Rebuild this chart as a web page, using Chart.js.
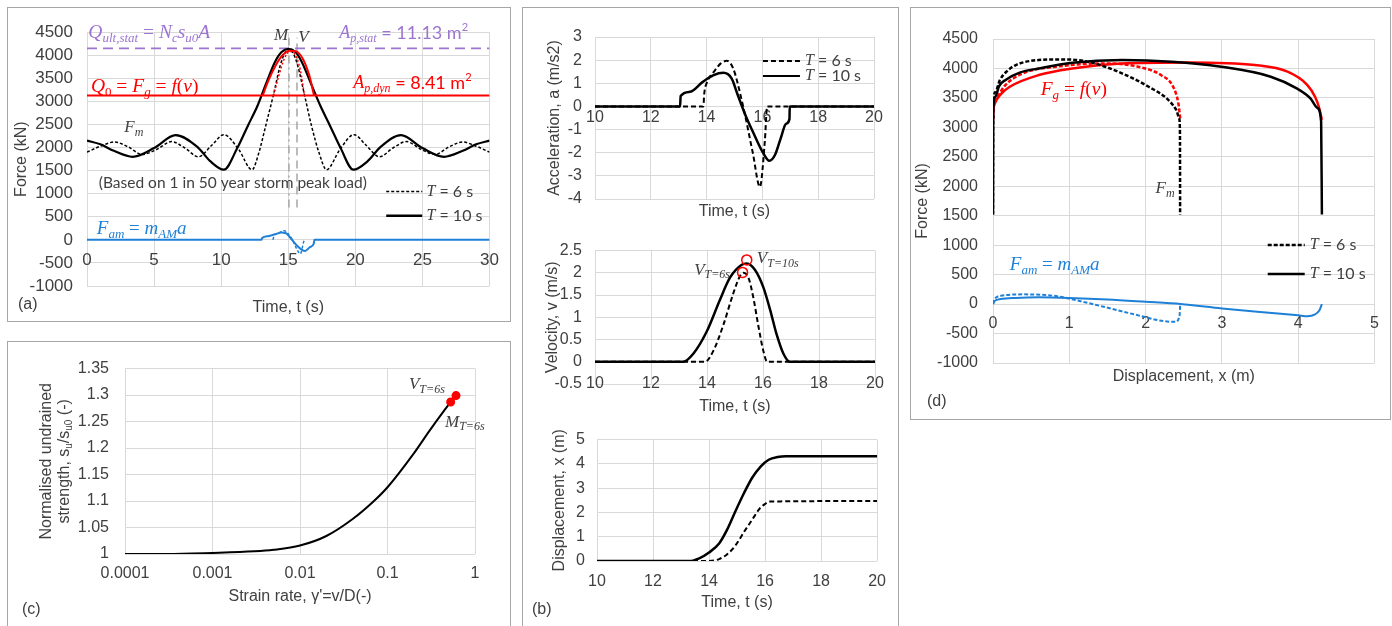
<!DOCTYPE html>
<html>
<head>
<meta charset="utf-8">
<script src="https://cdn.jsdelivr.net/npm/chart.js@4/dist/chart.umd.min.js"></script>
<style>
  body { margin: 0; background: #fff; width: 1392px; height: 626px; position: relative; overflow: hidden; }
  .box { position: absolute; border: 1px solid #a6a6a6; box-sizing: border-box; }
  canvas { position: absolute; }
</style>
</head>
<body>
<div class="box" style="left:7px;top:7px;width:504px;height:315px"></div>
<div class="box" style="left:7px;top:341px;width:504px;height:300px"></div>
<div class="box" style="left:522px;top:7px;width:377px;height:630px"></div>
<div class="box" style="left:910px;top:7px;width:481px;height:413px"></div>

<canvas id="chartA" style="left:8px;top:8px" width="501" height="312"></canvas>
<canvas id="chartC" style="left:8px;top:343px" width="501" height="277"></canvas>
<canvas id="chartAcc" style="left:524px;top:8px" width="373" height="220"></canvas>
<canvas id="chartVel" style="left:524px;top:228px" width="373" height="190"></canvas>
<canvas id="chartDisp" style="left:524px;top:418px" width="373" height="206"></canvas>
<canvas id="chartD" style="left:912px;top:8px" width="477" height="410"></canvas>

<script>
// ---- (a) force vs time ----
var tA10  = [0, 1, 2, 3.4, 5, 6.6, 8.2, 9.2, 10.2, 11.2, 12.0, 12.7, 13.3, 14.0, 14.5, 15.0, 15.5, 16.0, 16.7, 17.4, 18.1, 18.9, 19.85, 20.9, 21.9, 23.4, 25.0, 26.6, 28.0, 29.0, 30];
var fmA10 = [2150, 2070, 1930, 1800, 1990, 2270, 2020, 1700, 1520, 1990, 2480, 2900, 3350, 3850, 4070, 4140, 4080, 3860, 3380, 2900, 2480, 1990, 1520, 1700, 2020, 2270, 1990, 1800, 1930, 2070, 2150];
var tA6   = [0, 1, 2.05, 3.1, 4.1, 5.2, 6.3, 7.3, 8.3, 9.3, 10.2, 11.3, 12.3, 12.8, 13.3, 13.9, 14.4, 14.8, 15.05, 15.3, 15.7, 16.2, 16.75, 17.3, 17.85, 18.85, 19.9, 20.8, 21.8, 22.8, 23.8, 24.9, 25.95, 26.95, 28.0, 29.0, 30];
var fmA6  = [1900, 2030, 2120, 2010, 1850, 1960, 2130, 1990, 1800, 2050, 2280, 1960, 1520, 1880, 2450, 3150, 3780, 4080, 4130, 4080, 3780, 3150, 2450, 1880, 1520, 1960, 2280, 2050, 1800, 1990, 2130, 1960, 1850, 2010, 2120, 2030, 1900];
var tFg10 = [13.1, 13.5, 14.1, 14.6, 15.1, 15.55, 16.05, 16.55, 16.92];
var fgA10 = [3130, 3440, 3800, 4010, 4100, 4090, 3940, 3580, 3130];
var tFg6  = [13.9, 14.3, 14.7, 15.1, 15.5, 15.9, 16.2];
var fgA6  = [3130, 3560, 3920, 4080, 4020, 3680, 3130];
var tAm10 = [0, 13.0, 13.05, 13.5, 14.0, 14.5, 14.8, 15.2, 15.6, 16.0, 16.25, 16.6, 16.9, 16.95, 30];
var famA10 = [0, 0, 40, 80, 120, 160, 150, 30, -110, -210, -240, -160, -80, 0, 0];
var tAm6  = [13.85, 13.95, 14.3, 14.7, 15.0, 15.3, 15.6, 15.9, 16.15, 16.2];
var famA6 = [0, 90, 150, 200, 130, 0, -180, -300, -40, 0];
var timeSpanA = [0, 30];
var qUltStat = 4150;   // static capacity
var qZero = 3130;      // Q0
var tMarkers = [15.05, 15.65];   // M and V
var markerSpan = [700, 4380];

// ---- (b) acceleration / velocity / displacement vs time ----
var tAcc10 = [10, 13.05, 13.07, 13.4, 13.85, 14.25, 14.6, 14.9, 15.1, 15.4, 15.7, 16.0, 16.25, 16.45, 16.65, 16.85, 16.97, 16.98, 20];
var acc10  = [0, 0, 0.45, 0.63, 1.05, 1.35, 1.45, 1.2, 0.55, -0.4, -1.2, -1.95, -2.35, -2.1, -1.4, -0.75, -0.55, 0, 0];
var tAcc6  = [10, 13.88, 13.92, 14.0, 14.3, 14.5, 14.72, 14.95, 15.3, 15.66, 15.91, 16.09, 16.17, 20];
var acc6   = [0, 0, 0.6, 1.0, 1.56, 1.85, 1.97, 1.65, 0.05, -2.03, -3.47, -1.45, 0, 0];
var tVel10 = [10, 13.15, 13.51, 13.99, 14.46, 14.82, 15.24, 15.42, 15.71, 16.01, 16.25, 16.49, 16.73, 16.96, 20];
var vel10  = [0, 0, 0.18, 0.68, 1.39, 1.89, 2.18, 2.21, 2.07, 1.68, 1.18, 0.61, 0.18, 0, 0];
var tVel6  = [10, 13.93, 14.23, 14.58, 14.94, 15.18, 15.3, 15.48, 15.65, 15.83, 16.01, 16.15, 20];
var vel6   = [0, 0, 0.25, 0.82, 1.54, 1.93, 2.0, 1.89, 1.46, 0.82, 0.25, 0, 0];
var vPeakT = [15.42, 15.27];
var vPeakV = [2.29, 2.01];
var tDisp10 = [10, 13.3, 13.65, 14.0, 14.36, 14.65, 14.95, 15.25, 15.54, 15.85, 16.13, 16.45, 16.75, 20];
var disp10  = [0, 0, 0.11, 0.35, 0.72, 1.3, 2.07, 2.8, 3.43, 3.9, 4.17, 4.28, 4.31, 4.31];
var tDisp6  = [10, 14.0, 14.36, 14.65, 14.95, 15.25, 15.54, 15.8, 16.0, 16.15, 20];
var disp6   = [0, 0, 0.08, 0.28, 0.65, 1.2, 1.7, 2.15, 2.35, 2.45, 2.47];

// ---- (c) strength vs strain rate ----
var strainRate = [0.0001, 0.0003, 0.001, 0.003, 0.005, 0.01, 0.02, 0.04, 0.07, 0.1, 0.2, 0.3, 0.45, 0.527];
var strengthRatio = [1.000, 1.000, 1.002, 1.005, 1.008, 1.016, 1.034, 1.066, 1.100, 1.126, 1.190, 1.232, 1.272, 1.287];
var markRate = [0.527, 0.607];
var markRatio = [1.287, 1.299];
var strainTicks = [0.0001, 0.001, 0.01, 0.1, 1];

// ---- (d) force vs displacement ----
var xFm10 = [0, 0.003, 0.03, 0.08, 0.17, 0.35, 0.6, 1.04, 1.69, 2.34, 2.99, 3.64, 3.98, 4.16, 4.25, 4.3, 4.31];
var fmD10 = [1520, 3300, 3520, 3700, 3810, 3930, 4000, 4097, 4143, 4115, 4029, 3860, 3662, 3492, 3330, 3100, 1520];
var xFm6  = [0, 0.003, 0.03, 0.09, 0.18, 0.3, 0.6, 0.91, 1.26, 1.69, 2.04, 2.3, 2.4, 2.44, 2.45, 2.452];
var fmD6  = [1520, 3320, 3600, 3803, 3950, 4058, 4143, 4154, 4110, 3917, 3690, 3464, 3300, 3150, 2900, 1520];
var xFg10 = [0, 0.003, 0.03, 0.1, 0.22, 0.6, 1.04, 1.69, 2.56, 3.43, 3.86, 4.12, 4.22, 4.27, 4.31];
var fgD10 = [3130, 3250, 3420, 3560, 3690, 3888, 4000, 4086, 4103, 4058, 3945, 3718, 3520, 3350, 3130];
var xFg6  = [0, 0.003, 0.05, 0.15, 0.39, 0.83, 1.47, 1.9, 2.2, 2.36, 2.43, 2.455];
var fgD6  = [3130, 3280, 3500, 3700, 3917, 4030, 4086, 4030, 3888, 3690, 3400, 3130];
var xAm10 = [0, 0.02, 0.1, 0.3, 0.6, 1.0, 1.5, 2.0, 2.46, 3.0, 3.5, 4.0, 4.12, 4.22, 4.28, 4.31];
var famD10 = [0, 50, 85, 105, 115, 105, 80, 40, 0, -75, -135, -190, -205, -175, -100, 0];
var xAm6  = [0, 0.02, 0.1, 0.4, 0.8, 1.02, 1.45, 1.89, 2.24, 2.39, 2.44, 2.45, 2.452];
var famD6 = [0, 80, 140, 165, 140, 85, -45, -187, -290, -300, -220, -100, 0];

var PURPLE = '#9d75d1', RED = '#ff0000', BLUE = '#1f80d8', INK = '#404040', GRID = '#d9d9d9';

Chart.defaults.font.family = '"Liberation Sans", Arial, sans-serif';
Chart.defaults.color = INK;
Chart.defaults.animation = false;
Chart.defaults.responsive = false;
Chart.defaults.plugins.legend.display = false;
Chart.defaults.plugins.tooltip.enabled = false;

function pts(xs, ys) { return xs.map(function (x, i) { return {x: x, y: ys[i]}; }); }

function line(xs, ys, color, width, dash, straight) {
    return {
        data: pts(xs, ys), showLine: true, borderColor: color, borderWidth: width,
        borderDash: dash || [], pointRadius: 0, fill: false,
        cubicInterpolationMode: straight ? 'default' : 'monotone', tension: 0
    };
}

var tickFmt = function (v) { return String(Math.round(v * 1000) / 1000); };

// x axes sit on a data value; y axes are a fixed-width left box
function axis(min, max, step, at, size, pad, boxWidth) {
    var a = {
        type: 'linear', min: min, max: max, position: at,
        ticks: {stepSize: step, autoSkip: false, maxRotation: 0, font: {size: size}, padding: pad, callback: tickFmt, color: INK},
        grid: {color: GRID, drawTicks: false},
        border: {display: false}
    };
    if (boxWidth) {
        a.afterFit = function (s) { s.width = boxWidth; };
    }
    return a;
}

// mixed math / text runs: [text, kind]
function fontOf(k, S) {
    switch (k) {
        case 'm':  return ['italic ' + S + 'px "Liberation Serif"', 0];
        case 's':  return ['italic ' + Math.round(S * 0.68) + 'px "Liberation Serif"', S * 0.3];
        case 'r':  return [S + 'px "Liberation Serif"', 0];
        case 'rs': return [Math.round(S * 0.68) + 'px "Liberation Serif"', S * 0.3];
        case 'c':  return [S + 'px Lato', 0];
        case 'p':  return [Math.round(S * 0.62) + 'px Lato', -S * 0.3];
        case 'ns': return [Math.round(S * 0.65) + 'px "Liberation Sans"', S * 0.25];
        default:   return [S + 'px "Liberation Sans"', 0];
    }
}

function drawRich(ctx, parts, S, align) {
    var w = 0;
    var segs = parts.map(function (p) {
        var f = fontOf(p[1], S);
        ctx.font = f[0];
        var sw = ctx.measureText(p[0]).width;
        w += sw;
        return {t: p[0], font: f[0], dy: f[1], w: sw};
    });
    var x = align === 'center' ? -w / 2 : align === 'right' ? -w : 0;
    segs.forEach(function (s) {
        ctx.font = s.font;
        ctx.fillText(s.t, x, s.dy);
        x += s.w;
    });
}

var notesPlugin = {
    id: 'notes',
    afterDatasetsDraw: function (chart, args, opts) {
        var ctx = chart.ctx, sx = chart.scales.x, sy = chart.scales.y;
        ctx.save();
        ctx.textBaseline = 'middle';
        (opts.items || []).forEach(function (n) {
            var px = sx.getPixelForValue(n.at[0]) + (n.dx || 0);
            var py = sy.getPixelForValue(n.at[1]) + (n.dy || 0);
            ctx.fillStyle = ctx.strokeStyle = n.color || INK;
            if (n.sample) {
                ctx.lineWidth = n.width || 2;
                ctx.setLineDash(n.dash || []);
                ctx.beginPath();
                ctx.moveTo(px, py);
                ctx.lineTo(px + n.sample, py);
                ctx.stroke();
                ctx.setLineDash([]);
                return;
            }
            ctx.save();
            ctx.translate(px, py);
            if (n.rot) ctx.rotate(n.rot);
            drawRich(ctx, n.parts, n.size || 16, n.align || 'left');
            ctx.restore();
        });
        ctx.restore();
    }
};

var UP = -Math.PI / 2;
var T6 = [['T', 'm'], [' = 6 s', 'c']];
var T10 = [['T', 'm'], [' = 10 s', 'c']];
var FAM = [['F', 'm'], ['am', 's'], [' = ', 'r'], ['m', 'm'], ['AM', 's'], ['a', 'm']];
var FG = [['F', 'm'], ['g', 's'], [' = ', 'r'], ['f', 'm'], ['(', 'r'], ['v', 'm'], [')', 'r']];
var FM = [['F', 'm'], ['m', 's']];

// (a)
new Chart(document.getElementById('chartA'), {
    type: 'scatter',
    data: {datasets: [
        line(tAm10, famA10, BLUE, 2),
        line(tAm6, famA6, BLUE, 1.5, [3, 2]),
        line(tFg10, fgA10, RED, 2),
        line(tFg6, fgA6, RED, 1.5, [2, 2]),
        line(timeSpanA, [qZero, qZero], RED, 2, null, true),
        line(tA10, fmA10, '#000', 2.2),
        line(tA6, fmA6, '#000', 1.5, [3, 2]),
        line(timeSpanA, [qUltStat, qUltStat], PURPLE, 1.8, [10, 6], true),
        line([tMarkers[0], tMarkers[0]], markerSpan, '#a6a6a6', 1.5, [8, 4, 2, 4], true),
        line([tMarkers[1], tMarkers[1]], markerSpan, '#a6a6a6', 1.5, [8, 5], true)
    ]},
    options: {
        layout: {padding: {left: 0, top: 24, right: 12, bottom: 34}},
        scales: {
            x: axis(0, 30, 5, {y: 0}, 17, 10),
            y: axis(-1000, 4500, 500, 'left', 17, 14, 79)
        },
        plugins: {notes: {items: [
            {at: [0.1, 4480], size: 19.5, color: PURPLE, parts: [['Q', 'm'], ['ult,stat', 's'], [' = ', 'r'], ['N', 'm'], ['c', 's'], ['s', 'm'], ['u0', 's'], ['A', 'm']]},
            {at: [18.8, 4480], size: 18, color: PURPLE, parts: [['A', 'm'], ['p,stat', 's'], [' = 11.13 m', 'c'], ['2', 'p']]},
            {at: [14.46, 4417], size: 17, align: 'center', parts: [['M', 'm']]},
            {at: [16.13, 4390], size: 17, align: 'center', parts: [['V', 'm']]},
            {at: [0.29, 3320], size: 19.5, color: RED, parts: [['Q', 'm'], ['0', 'rs'], [' = ', 'r']].concat(FG)},
            {at: [19.84, 3392], size: 18, color: RED, parts: [['A', 'm'], ['p,dyn', 's'], [' = 8.41 m', 'c'], ['2', 'p']]},
            {at: [2.78, 2431], size: 17, parts: FM},
            {at: [0.88, 1227], size: 15.5, parts: [['(Based on 1 in 50 year storm peak load)', 'c']]},
            {at: [22.3, 1046], sample: 36, width: 1.5, dash: [3, 2], color: '#000'},
            {at: [25.3, 1046], size: 16, parts: T6},
            {at: [22.3, 520], sample: 36, width: 2.5, color: '#000'},
            {at: [25.3, 520], size: 16, parts: T10},
            {at: [0.73, 231], size: 19, color: BLUE, parts: FAM},
            {at: [15, -1000], dy: 22, size: 16, align: 'center', parts: [['Time, t (s)', 'n']]},
            {at: [0, 1750], dx: -65, rot: UP, size: 16, align: 'center', parts: [['Force (kN)', 'n']]},
            {at: [0, -1000], dx: -69, dy: 19, size: 16, parts: [['(a)', 'n']]}
        ]}}
    },
    plugins: [notesPlugin]
});

// (b) acceleration
new Chart(document.getElementById('chartAcc'), {
    type: 'scatter',
    data: {datasets: [
        line(tAcc10, acc10, '#000', 2.5),
        line(tAcc6, acc6, '#000', 2, [5, 3])
    ]},
    options: {
        layout: {padding: {left: 0, top: 29, right: 23, bottom: 29}},
        scales: {
            x: axis(10, 20, 2, {y: 0}, 16, 2),
            y: axis(-4, 3, 1, 'left', 16, 13, 71)
        },
        plugins: {notes: {items: [
            {at: [16.02, 1.96], sample: 37, width: 2, dash: [5, 3], color: '#000'},
            {at: [17.53, 1.96], size: 16, parts: T6},
            {at: [16.02, 1.31], sample: 37, width: 2, color: '#000'},
            {at: [17.53, 1.31], size: 16, parts: T10},
            {at: [15, -4], dy: 13, size: 16, align: 'center', parts: [['Time, t (s)', 'n']]},
            {at: [10, -0.5], dx: -40, rot: UP, size: 16, align: 'center', parts: [['Acceleration, a (m/s2)', 'n']]}
        ]}}
    },
    plugins: [notesPlugin]
});

// (b) velocity
new Chart(document.getElementById('chartVel'), {
    type: 'scatter',
    data: {datasets: [
        {data: pts(vPeakT, vPeakV), pointRadius: 5, pointBorderColor: RED, pointBorderWidth: 1.5, pointBackgroundColor: 'rgba(0,0,0,0)'},
        line(tVel10, vel10, '#000', 2.5),
        line(tVel6, vel6, '#000', 2, [5, 3])
    ]},
    options: {
        layout: {padding: {left: 0, top: 18, right: 22, bottom: 34}},
        scales: {
            x: axis(10, 20, 2, {y: 0}, 16, 12),
            y: axis(-0.5, 2.5, 0.5, 'left', 16, 13, 71)
        },
        plugins: {notes: {items: [
            {at: [15.78, 2.32], size: 17, parts: [['V', 'm'], ['T=10s', 's']]},
            {at: [14.82, 2.06], size: 17, align: 'right', parts: [['V', 'm'], ['T=6s', 's']]},
            {at: [15, -0.5], dy: 23, size: 16, align: 'center', parts: [['Time, t (s)', 'n']]},
            {at: [10, 1], dx: -42, rot: UP, size: 16, align: 'center', parts: [['Velocity, v (m/s)', 'n']]}
        ]}}
    },
    plugins: [notesPlugin]
});

// (b) displacement
new Chart(document.getElementById('chartDisp'), {
    type: 'scatter',
    data: {datasets: [
        line(tDisp10, disp10, '#000', 2.5),
        line(tDisp6, disp6, '#000', 2, [5, 3])
    ]},
    options: {
        layout: {padding: {left: 0, top: 20, right: 18, bottom: 63}},
        scales: {
            x: axis(10, 20, 2, {y: 0}, 16, 11),
            y: axis(0, 5, 1, 'left', 16, 12, 73)
        },
        plugins: {notes: {items: [
            {at: [15, 0], dy: 42, size: 16, align: 'center', parts: [['Time, t (s)', 'n']]},
            {at: [10, 2.5], dx: -37, rot: UP, size: 16, align: 'center', parts: [['Displacement, x (m)', 'n']]},
            {at: [10, 0], dx: -65, dy: 49, size: 16, parts: [['(b)', 'n']]}
        ]}}
    },
    plugins: [notesPlugin]
});

// (c)
var xC = axis(0.0001, 1, null, {y: 1}, 16, 10);
xC.type = 'logarithmic';
xC.ticks.callback = function (v) { return String(v); };
xC.afterBuildTicks = function (s) { s.ticks = strainTicks.map(function (v) { return {value: v}; }); };
new Chart(document.getElementById('chartC'), {
    type: 'scatter',
    data: {datasets: [
        {data: pts(markRate, markRatio), showLine: true, borderColor: RED, borderWidth: 3, pointRadius: 3, pointBackgroundColor: RED, pointBorderColor: RED},
        line(strainRate, strengthRatio, '#000', 2)
    ]},
    options: {
        layout: {padding: {left: 0, top: 18, right: 34, bottom: 66}},
        scales: {
            x: xC,
            y: axis(1, 1.35, 0.05, 'left', 16, 16, 117)
        },
        plugins: {notes: {items: [
            {at: [0.176, 1.320], size: 17, parts: [['V', 'm'], ['T=6s', 's']]},
            {at: [0.454, 1.249], size: 17, parts: [['M', 'm'], ['T=6s', 's']]},
            {at: [0.01, 1], dy: 43, size: 16, align: 'center', parts: [["Strain rate, \u03b3'=v/D(-)", 'n']]},
            {at: [0.0001, 1.175], dx: -78, rot: UP, size: 16, align: 'center', parts: [['Normalised undrained', 'n']]},
            {at: [0.0001, 1.175], dx: -60, rot: UP, size: 16, align: 'center', parts: [['strength, s', 'n'], ['u', 'ns'], ['/s', 'n'], ['u0', 'ns'], [' (-)', 'n']]},
            {at: [0.0001, 1], dx: -103, dy: 56, size: 16, parts: [['(c)', 'n']]}
        ]}}
    },
    plugins: [notesPlugin]
});

// (d)
new Chart(document.getElementById('chartD'), {
    type: 'scatter',
    data: {datasets: [
        line(xAm10, famD10, BLUE, 2),
        line(xAm6, famD6, BLUE, 2, [4, 2]),
        line(xFm10, fmD10, '#000', 2.5),
        line(xFm6, fmD6, '#000', 2.5, [4, 2]),
        line(xFg10, fgD10, RED, 2.5),
        line(xFg6, fgD6, RED, 2.5, [4, 2])
    ]},
    options: {
        layout: {padding: {left: 0, top: 31, right: 12, bottom: 55}},
        scales: {
            x: axis(0, 5, 1, {y: 0}, 16, 10),
            y: axis(-1000, 4500, 500, 'left', 16, 15, 81)
        },
        plugins: {notes: {items: [
            {at: [0.625, 3633], size: 19.5, color: RED, parts: FG},
            {at: [2.13, 1964], size: 17, parts: FM},
            {at: [3.6, 1002], sample: 37, width: 2.5, dash: [4, 2], color: '#000'},
            {at: [4.15, 1002], size: 16, parts: T6},
            {at: [3.6, 509], sample: 37, width: 2.5, color: '#000'},
            {at: [4.15, 509], size: 16, parts: T10},
            {at: [0.22, 662], size: 19, color: BLUE, parts: FAM},
            {at: [2.5, -1000], dy: 14, size: 16, align: 'center', parts: [['Displacement, x (m)', 'n']]},
            {at: [0, 1750], dx: -70, rot: UP, size: 16, align: 'center', parts: [['Force (kN)', 'n']]},
            {at: [0, -1000], dx: -66, dy: 39, size: 16, parts: [['(d)', 'n']]}
        ]}}
    },
    plugins: [notesPlugin]
});
</script>
</body>
</html>
